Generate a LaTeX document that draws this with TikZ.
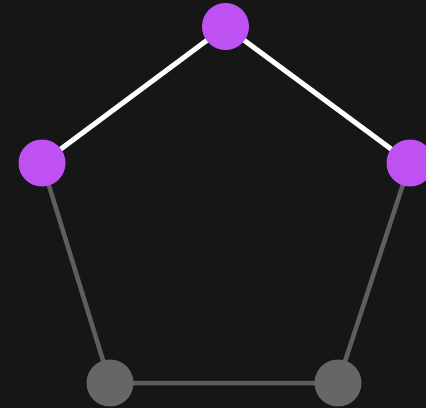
\documentclass[tikz,border=0pt]{standalone}
\usetikzlibrary{backgrounds}
\definecolor{bg}{HTML}{161616}
\definecolor{purp}{HTML}{BF50F2}
\definecolor{gnode}{HTML}{666666}
\definecolor{gedge}{HTML}{5E5E5E}
\begin{document}
\begin{tikzpicture}[x=1pt,y=-1pt,
  vert/.style={circle,minimum size=47pt,inner sep=0pt},
  active/.style={vert,fill=purp},
  idle/.style={vert,fill=gnode},
  hot/.style={white,line width=5pt},
  cold/.style={gedge,line width=4.5pt}]
\useasboundingbox (0,0) rectangle (426,408);
\node[active] (t) at (225.5,26.5) {};
\node[active] (l) at (42,163) {};
\node[active] (r) at (410,163) {};
\node[idle] (bl) at (110,383) {};
\node[idle] (br) at (338,383) {};
\begin{scope}[on background layer]
\fill[bg] (0,0) rectangle (426,408);
\draw[cold] (l.center) -- (bl.center) -- (br.center) -- (r.center);
\draw[hot] (l.center) -- (t.center) -- (r.center);
\end{scope}
\end{tikzpicture}
\end{document}
